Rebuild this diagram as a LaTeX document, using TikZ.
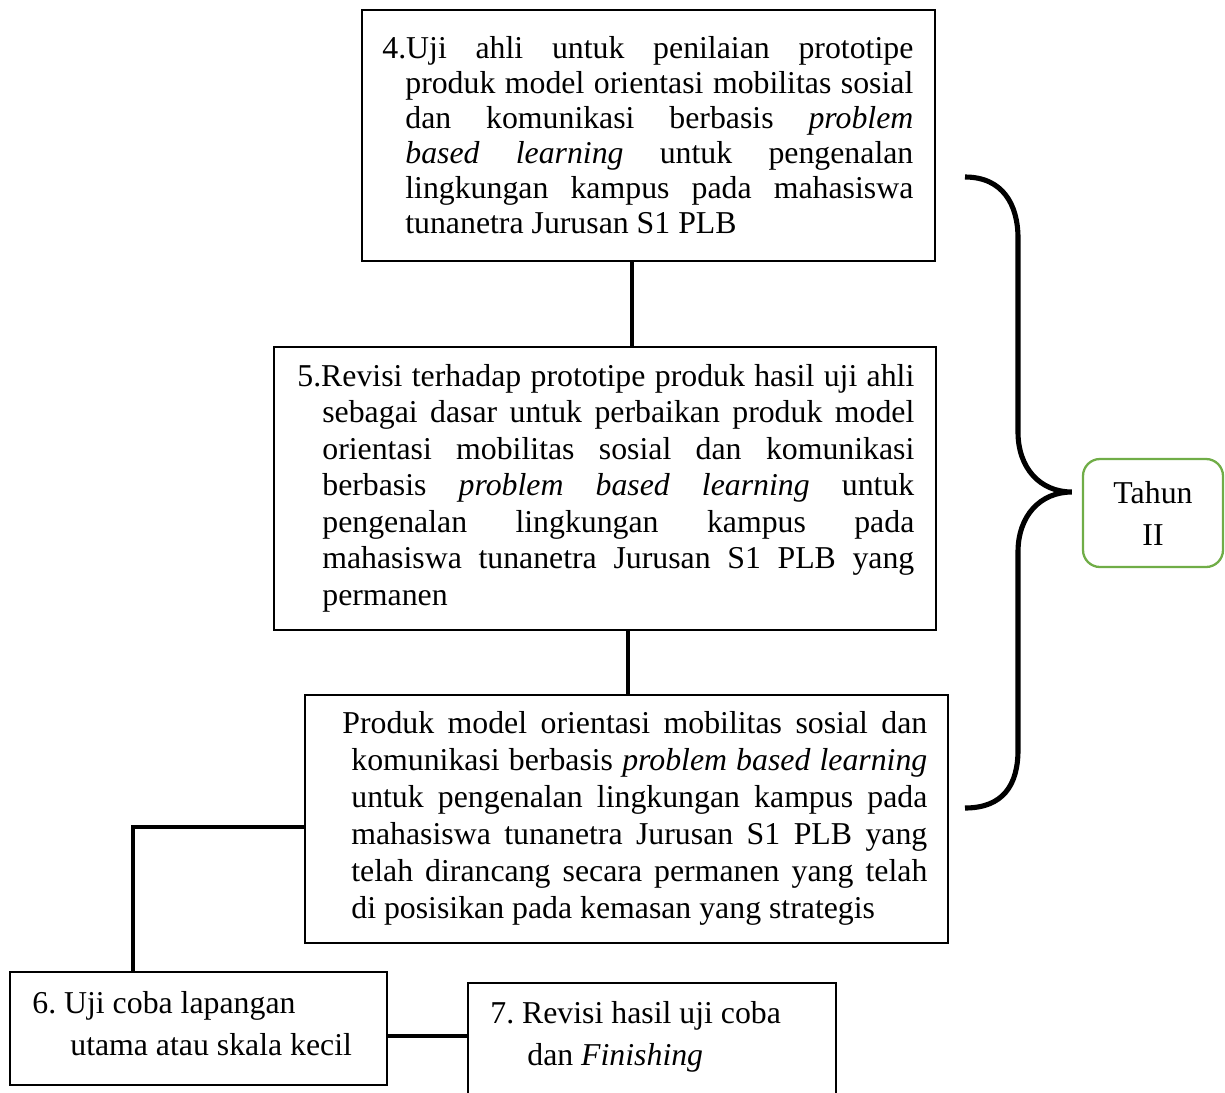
\documentclass[tikz,border=0pt]{standalone}
\usepackage{fontspec}
\setmainfont{Liberation Serif}
\frenchspacing
\newlength\px
\setlength\px{0.02cm}
\newcommand\jl[2]{\makebox[#1\px][s]{#2}}
\definecolor{tgreen}{HTML}{70AD47}
\begin{document}
\begin{tikzpicture}[x=0.02cm,y=-0.02cm,
  box/.style={draw, line width=1.5pt, rectangle, inner sep=0pt},
  txt/.style={anchor=base west, inner sep=0pt, font=\fontsize{18.1pt}{21pt}\selectfont\frenchspacing},
  conn/.style={line width=1.8pt},
  bracestyle/.style={line width=2.9pt},
  yearbox/.style={draw=tgreen, line width=1.3pt, rounded corners=17*0.02cm, inner sep=0pt,
    minimum width=140*0.02cm, minimum height=108*0.02cm, align=center,
    font=\fontsize{18.1pt}{42\px}\selectfont}]
\useasboundingbox (0,0) rectangle (1225,1093);

% boxes
\node[box, minimum width=573*0.02cm, minimum height=251*0.02cm] (b1) at (648.5,135.5) {};
\node[box, minimum width=662*0.02cm, minimum height=283*0.02cm] (b2) at (605,488.5) {};
\node[box, minimum width=643*0.02cm, minimum height=248*0.02cm] (b3) at (626.5,819) {};
\node[box, minimum width=377*0.02cm, minimum height=113*0.02cm] (b6) at (198.5,1028.5) {};
\node[box, minimum width=368*0.02cm, minimum height=118*0.02cm] (b7) at (652,1042) {};
\node[yearbox] (th) at (1153,513) {Tahun\\II};

% texts
\node[txt] (t1) at (382,58) {\parbox[t]{640\px}{\lineskiplimit=-\maxdimen\baselineskip=35\px\noindent
\jl{531}{4.Uji ahli untuk penilaian prototipe}\\
\hspace*{23\px}\jl{508}{produk model orientasi mobilitas sosial}\\
\hspace*{23\px}\jl{508}{dan komunikasi berbasis \textit{problem}}\\
\hspace*{23\px}\jl{508}{\textit{based learning} untuk pengenalan}\\
\hspace*{23\px}\jl{508}{lingkungan kampus pada mahasiswa}\\
\hspace*{23\px}tunanetra Jurusan S1 PLB}};

\node[txt] (t2) at (297,386) {\parbox[t]{660\px}{\lineskiplimit=-\maxdimen\baselineskip=36.5\px\noindent
\jl{617}{5.Revisi terhadap prototipe produk hasil uji ahli}\\
\hspace*{25\px}\jl{592}{sebagai dasar untuk perbaikan produk model}\\
\hspace*{25\px}\jl{592}{orientasi mobilitas sosial dan komunikasi}\\
\hspace*{25\px}\jl{592}{berbasis \textit{problem based learning} untuk}\\
\hspace*{25\px}\jl{592}{pengenalan lingkungan kampus pada}\\
\hspace*{25\px}\jl{592}{mahasiswa tunanetra Jurusan S1 PLB yang}\\
\hspace*{25\px}permanen}};

\node[txt] (t3) at (342,733) {\parbox[t]{640\px}{\lineskiplimit=-\maxdimen\baselineskip=37\px\noindent
\jl{585}{Produk model orientasi mobilitas sosial dan}\\
\hspace*{9\px}\jl{576}{komunikasi berbasis \textit{problem based learning}}\\
\hspace*{9\px}\jl{576}{untuk pengenalan lingkungan kampus pada}\\
\hspace*{9\px}\jl{576}{mahasiswa tunanetra Jurusan S1 PLB yang}\\
\hspace*{9\px}\jl{576}{telah dirancang secara permanen yang telah}\\
\hspace*{9\px}di posisikan pada kemasan yang strategis}};

\node[txt] (t6) at (32,1013) {\parbox[t]{360\px}{\lineskiplimit=-\maxdimen\baselineskip=42\px\noindent
6. Uji coba lapangan\\
\hspace*{38\px}utama atau skala kecil}};

\node[txt] (t7) at (490,1023) {\parbox[t]{340\px}{\lineskiplimit=-\maxdimen\baselineskip=42\px\noindent
7. Revisi hasil uji coba\\
\hspace*{37\px}dan \textit{Finishing}}};

% connectors
\draw[conn] (b1.south -| 632,0) -- (b2.north -| 632,0);
\draw[conn] (b2.south -| 628,0) -- (b3.north -| 628,0);
\draw[conn] (b3.west |- 0,827) -| (b6.north -| 133,0);
\draw[line width=2.3pt] (b6.east |- 0,1036) -- (b7.west |- 0,1036);

% brace
\coordinate (btop) at (965,177);
\coordinate (bbot) at (965,808);
\coordinate (btip) at ([xshift=-10*0.02cm]th.west |- 0,492);
\draw[bracestyle] (btop) .. controls (1003,177) and (1018,205) .. (1018,238)
  -- (1018,432) .. controls (1018,468) and (1040,492) .. (btip)
  .. controls (1040,492) and (1018,516) .. (1018,552)
  -- (1018,750) .. controls (1018,785) and (1003,808) .. (bbot);
\end{tikzpicture}
\end{document}
